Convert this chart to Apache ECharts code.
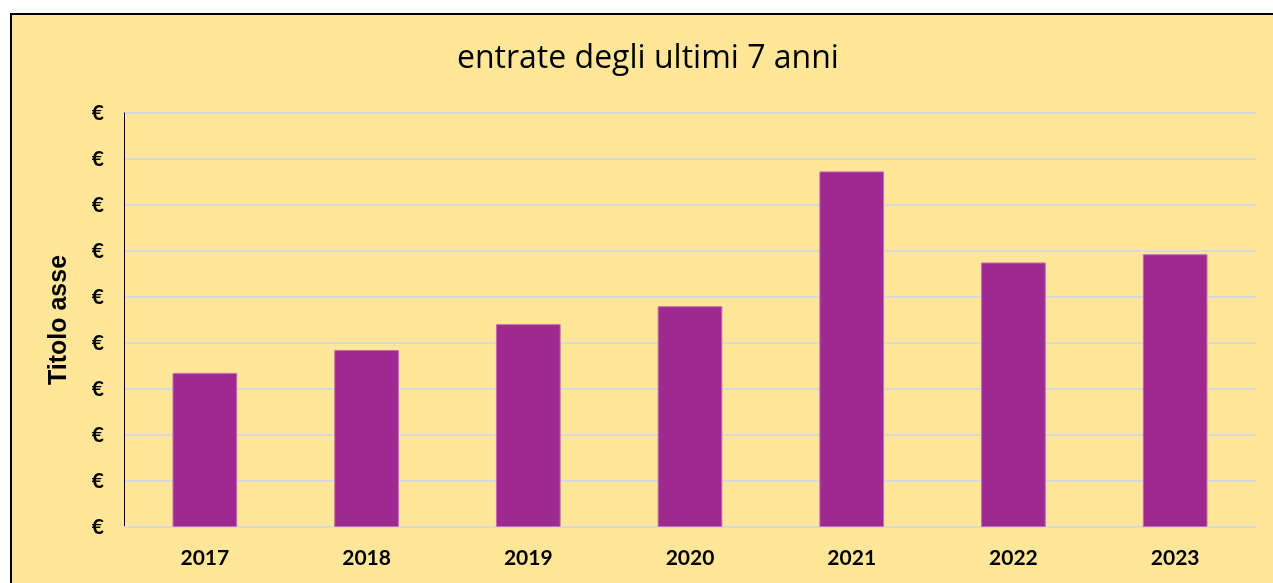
<!DOCTYPE html>
<html>
<head>
<meta charset="utf-8">
<script src="https://cdn.jsdelivr.net/npm/echarts@6/dist/echarts.min.js"></script>
<style>
  body { margin: 0; background: #ffffff; }
  #frame {
    position: absolute;
    left: 10px;
    top: 13px;
    width: 1263px;
    height: 570px;
    box-sizing: border-box;
    border-left: 2px solid #000000;
    border-top: 2px solid #000000;
    background: #FFE699;
  }
  #chart { width: 100%; height: 100%; }
</style>
</head>
<body>
<div id="frame"><div id="chart"></div></div>
<script>
const years = ['2017', '2018', '2019', '2020', '2021', '2022', '2023']
const entrate = [3.35, 3.85, 4.41, 4.80, 7.73, 5.75, 5.93]
const yTickLabel = '€'

const chart = echarts.init(document.getElementById('chart'))
chart.setOption({
  backgroundColor: 'transparent',
  textStyle: { fontFamily: 'Lato' },
  title: {
    text: 'entrate degli ultimi 7 anni',
    left: 440,
    top: 23,
    textStyle: { fontFamily: 'Open Sans', fontSize: 32, fontWeight: 500, color: '#000000' }
  },
  grid: { left: 112, right: 17, top: 98, bottom: 56 },
  xAxis: {
    type: 'category',
    data: years,
    axisLine: { lineStyle: { color: '#D9D9D9', width: 2 } },
    axisTick: { show: false },
    axisLabel: { margin: 21, fontSize: 21, fontWeight: 'bold', color: '#000000' }
  },
  yAxis: {
    type: 'value',
    min: 0,
    max: 9,
    interval: 1,
    name: 'Titolo asse',
    nameLocation: 'middle',
    nameRotate: 90,
    nameGap: 52,
    nameTextStyle: { fontFamily: 'Liberation Sans', fontSize: 25, fontWeight: 'bold', color: '#000000' },
    axisLine: { show: true, lineStyle: { color: '#000000', width: 1 } },
    axisTick: { show: false },
    splitLine: { lineStyle: { color: '#D9D9D9', width: 2 } },
    axisLabel: {
      margin: 20,
      fontSize: 21,
      fontWeight: 'bold',
      color: '#000000',
      formatter: () => yTickLabel
    }
  },
  series: [{
    type: 'bar',
    data: entrate,
    barWidth: '40%',
    itemStyle: { color: '#9E2A90', borderColor: '#C56AB6', borderWidth: 1 }
  }]
})
</script>
</body>
</html>
